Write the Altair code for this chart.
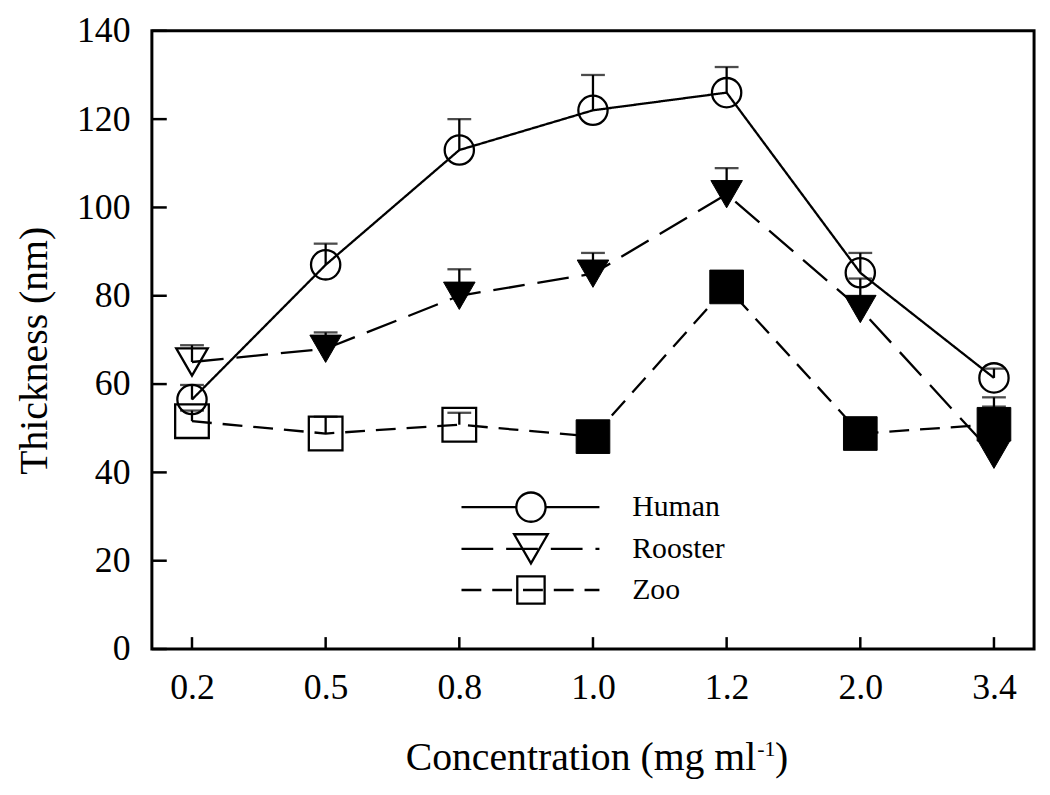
import altair as alt
import pandas as pd

# ---- data ----
conc = ["0.2", "0.5", "0.8", "1.0", "1.2", "2.0", "3.4"]
series_names = ["Human", "Rooster", "Zoo"]

human = [56.5, 87.0, 113.0, 122.0, 126.0, 85.2, 61.4]
human_top = [59.8, 91.8, 120.0, 130.0, 131.8, 89.7, 63.5]
human_filled = [False, False, False, False, False, False, False]

rooster = [65.0, 68.0, 80.0, 85.0, 103.0, 77.0, 44.0]
rooster_top = [68.8, 71.7, 86.0, 89.7, 108.9, 83.9, 57.0]
rooster_filled = [False, True, True, True, True, True, True]

zoo = [51.6, 48.8, 50.8, 48.1, 82.0, 48.8, 50.9]
zoo_top = [54.0, 52.6, 53.5, 50.5, 84.5, 51.0, 54.9]
zoo_filled = [False, False, False, True, True, True, True]

y_ticks = [0, 20, 40, 60, 80, 100, 120, 140]

shapes = ["circle", "triangle-down", "square"]
sizes = [870, 1150, 760]
dashes = [[1, 0], [32, 13], [20, 11]]

FONT = "Liberation Serif"
W, H = 889, 623
LW = 2.3

rows = []
for name, vals, tops, fills in [
    ("Human", human, human_top, human_filled),
    ("Rooster", rooster, rooster_top, rooster_filled),
    ("Zoo", zoo, zoo_top, zoo_filled),
]:
    for c, v, t, f in zip(conc, vals, tops, fills):
        rows.append({"series": name, "conc": c, "value": v, "top": t, "filled": f})
df = pd.DataFrame(rows)

x_enc = alt.X("conc:O", sort=conc,
              scale=alt.Scale(type="point", domain=conc, padding=0.3),
              axis=alt.Axis(labelAngle=0, labelPadding=22, title=None))
y_enc = alt.Y("value:Q", scale=alt.Scale(domain=[0, 140], nice=False, zero=True),
              axis=alt.Axis(values=y_ticks, format="d", labelPadding=22, title=None))

shape_enc = alt.Shape("series:N", scale=alt.Scale(domain=series_names, range=shapes), legend=None)
size_enc = alt.Size("series:N", scale=alt.Scale(domain=series_names, range=sizes), legend=None)
dash_enc = alt.StrokeDash("series:N", scale=alt.Scale(domain=series_names, range=dashes), legend=None)

base = alt.Chart(df)

lines = base.mark_line(color="black", strokeWidth=LW).encode(
    x=x_enc, y=y_enc, strokeDash=dash_enc, detail="series:N")

err_rules = base.mark_rule(color="black", strokeWidth=LW).encode(
    x=x_enc, y=y_enc, y2="top:Q")

err_caps = base.mark_tick(orient="horizontal", size=24, thickness=LW, color="black").encode(
    x=x_enc, y=alt.Y("top:Q", scale=alt.Scale(domain=[0, 140], nice=False), title=None))

open_pts = base.transform_filter("!datum.filled").mark_point(
    filled=False, stroke="black", strokeWidth=LW, opacity=1).encode(
    x=x_enc, y=y_enc, shape=shape_enc, size=size_enc)

filled_pts = base.transform_filter("datum.filled").mark_point(
    filled=True, fill="black", stroke="black", strokeWidth=1, opacity=1).encode(
    x=x_enc, y=y_enc, shape=shape_enc, size=size_enc)

ytick_df = pd.DataFrame({"value": y_ticks})
ytick_rules = alt.Chart(ytick_df).mark_rule(color="black", strokeWidth=2.5).encode(
    y=y_enc, x=alt.value(0), x2=alt.value(15))

xtick_df = pd.DataFrame({"conc": conc})
xtick_rules = alt.Chart(xtick_df).mark_rule(color="black", strokeWidth=2.5).encode(
    x=x_enc, y=alt.value(H), y2=alt.value(H - 12))

# ---- legend (inside plot) ----
legend_rows_y = [480, 522, 563.5]
legend_layers = []
for name, shp, sz, dsh, ly in zip(series_names, shapes, sizes, dashes, legend_rows_y):
    ldf = pd.DataFrame({"label": [name]})
    lc = alt.Chart(ldf)
    legend_layers.append(
        lc.mark_rule(color="black", strokeWidth=LW, strokeDash=dsh).encode(
            x=alt.value(312), x2=alt.value(451), y=alt.value(ly)))
    if name == "Human":
        legend_layers.append(
            lc.mark_point(shape=shp, size=sz, filled=False, stroke="black", strokeWidth=LW,
                          opacity=1, fill="white").encode(x=alt.value(382), y=alt.value(ly)))
    else:
        legend_layers.append(
            lc.mark_point(shape=shp, size=sz, filled=False, stroke="black", strokeWidth=LW,
                          opacity=1).encode(x=alt.value(382), y=alt.value(ly)))
    legend_layers.append(
        lc.mark_text(align="left", baseline="middle", font=FONT, fontSize=30, color="black").encode(
            x=alt.value(484), y=alt.value(ly), text="label:N"))

# ---- axis titles ----
xt_main = alt.Chart(pd.DataFrame({"t": ["Concentration (mg ml"]})).mark_text(
    align="right", baseline="alphabetic", font=FONT, fontSize=40, color="black").encode(
    x=alt.value(609), y=alt.value(744.5), text="t:N")
xt_sup = alt.Chart(pd.DataFrame({"t": ["-1"]})).mark_text(
    align="left", baseline="alphabetic", font=FONT, fontSize=22, color="black").encode(
    x=alt.value(610), y=alt.value(731), text="t:N")
xt_close = alt.Chart(pd.DataFrame({"t": [")"]})).mark_text(
    align="left", baseline="alphabetic", font=FONT, fontSize=40, color="black").encode(
    x=alt.value(628), y=alt.value(744.5), text="t:N")
yt = alt.Chart(pd.DataFrame({"t": ["Thickness (nm)"]})).mark_text(
    align="center", baseline="alphabetic", angle=270, font=FONT, fontSize=40, color="black").encode(
    x=alt.value(-106), y=alt.value(322.5), text="t:N")

chart = alt.layer(
    lines, err_rules, err_caps, open_pts, filled_pts, ytick_rules, xtick_rules,
    *legend_layers, xt_main, xt_sup, xt_close, yt
).properties(
    width=W, height=H,
    background="white",
    autosize=alt.AutoSizeParams(type="none"),
    padding={"left": 145, "top": 20, "right": 8, "bottom": 130},
).configure_axis(
    grid=False, domain=False, ticks=False, tickSize=0,
    labelFont=FONT, labelFontSize=36, labelColor="black",
).configure_view(
    stroke="black", strokeWidth=3
)

chart.save("out.html", embed_options={"renderer": "svg", "actions": False})
